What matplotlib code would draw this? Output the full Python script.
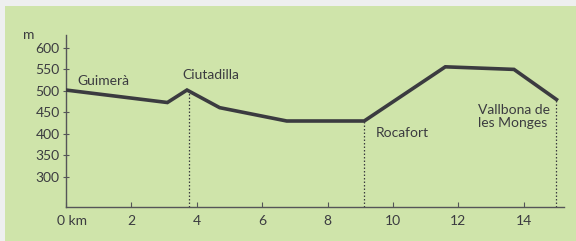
import matplotlib.pyplot as plt
from matplotlib.patches import Rectangle
import matplotlib.transforms as mtransforms

# elevation profile (km, m)
dist_km = [0.0, 3.1, 3.7, 4.7, 6.75, 9.12, 11.6, 13.7, 15.0]
elev_m = [502, 473, 502, 461, 430, 430, 556, 550, 480]

# towns: name, km of the dotted marker
town_names = ["Guimerà", "Ciutadilla", "Rocafort", "Vallbona de\nles Monges"]
town_km = [0.0, 3.77, 9.12, 15.0]
town_label_xy = [(0.35, 522), (3.55, 536), (9.48, 402), (12.6, 440)]

xticks = [0, 2, 4, 6, 8, 10, 12, 14]
yticks = [300, 350, 400, 450, 500, 550, 600]

GREEN = "#cfe4aa"
GREY_BG = "#eeefef"
INK = "#3b3b40"

plt.rcParams['font.family'] = ['Lato', 'DejaVu Sans']

fig = plt.figure(figsize=(5.76, 2.41), dpi=100)
fig.patch.set_facecolor(GREY_BG)
# green panel (leaves a thin grey strip at top and left)
fig.patches.append(Rectangle((5 / 576, 0), 1, 1 - 6 / 241, transform=fig.transFigure,
                             facecolor=GREEN, edgecolor='none', zorder=-10))

ax = fig.add_axes([66 / 576, (241 - 207) / 241, (564 - 66) / 576, (207 - 35) / 241])
ax.set_facecolor('none')
ax.set_xlim(0, 15.23)
ax.set_ylim(230, 630)

ax.plot(dist_km, elev_m, color=INK, lw=2.6, solid_joinstyle='miter', zorder=3)

# dotted drop lines from the profile to the axis
for km in town_km[1:]:
    # elevation on the profile at this km
    for i in range(len(dist_km) - 1):
        if dist_km[i] <= km <= dist_km[i + 1]:
            t = (km - dist_km[i]) / (dist_km[i + 1] - dist_km[i])
            h = elev_m[i] + t * (elev_m[i + 1] - elev_m[i])
            break
    ax.plot([km, km], [230, h], color=INK, lw=0.9, ls=(0, (1.2, 1.6)), zorder=2)

for name, (tx, ty) in zip(town_names, town_label_xy):
    ax.text(tx, ty, name, fontsize=10, color=INK, ha='left', va='center',
            linespacing=1.05)

for side in ['top', 'right']:
    ax.spines[side].set_visible(False)
for side in ['left', 'bottom']:
    ax.spines[side].set_color('#555558')
    ax.spines[side].set_linewidth(1.0)

ax.set_xticks(xticks)
ax.set_xticklabels(["0 km"] + [str(v) for v in xticks[1:]])
ax.set_yticks(yticks)
ax.tick_params(axis='x', direction='in', length=3.5, width=0.8, colors='#555558',
               labelcolor=INK, labelsize=10, pad=6)
ax.tick_params(axis='y', direction='inout', length=5, width=0.8, colors='#555558',
               labelcolor=INK, labelsize=10, pad=2)

lbl0 = ax.get_xticklabels()[0]
lbl0.set_ha('left')
lbl0.set_transform(lbl0.get_transform() + mtransforms.ScaledTranslation(-9 / 100, 0, fig.dpi_scale_trans))

fig.text(29 / 576, 1 - 35 / 241, "m", fontsize=10, color=INK, ha='center', va='center')

fig.savefig("out.png", dpi=100, facecolor=fig.get_facecolor())
